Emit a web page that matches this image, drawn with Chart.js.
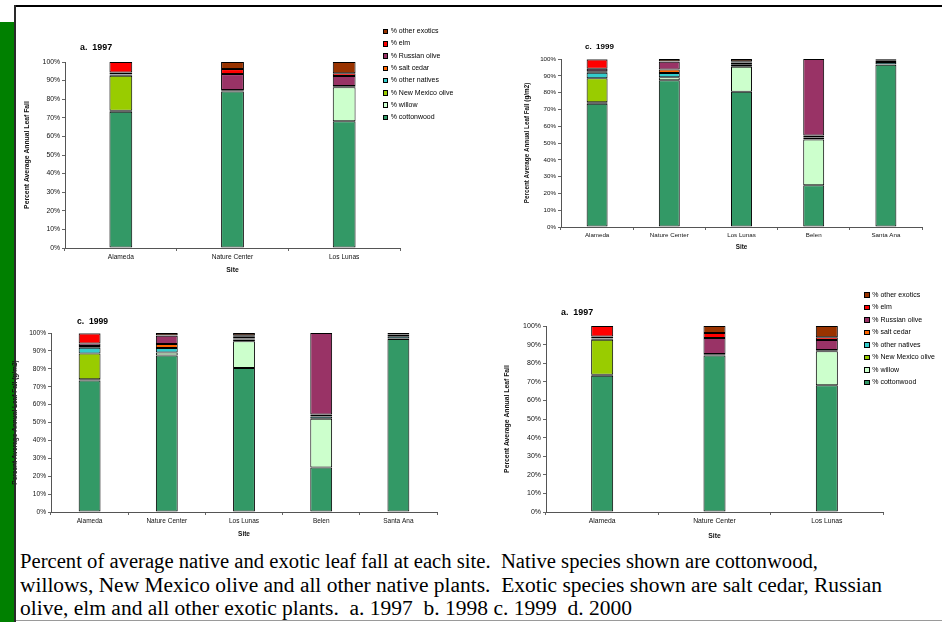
<!DOCTYPE html>
<html>
<head>
<meta charset="utf-8">
<script src="https://cdn.jsdelivr.net/npm/chart.js@4.4.0/dist/chart.umd.min.js"></script>
<style>
  html, body { margin: 0; padding: 0; background: #fff; }
  body { width: 942px; height: 622px; position: relative; overflow: hidden;
         font-family: "Liberation Sans", Arial, sans-serif; }
  .sidebar { position: absolute; left: 0; top: 22px; width: 14px; height: 600px; background: #008000; }
  .frame-top { position: absolute; left: 14px; top: 5px; width: 928px; height: 2px; background: #000; }
  .frame-left { position: absolute; left: 14px; top: 5px; width: 2px; height: 617px; background: #2a2a2a; z-index: 5; }
  .frame-bottom { position: absolute; left: 14px; top: 620px; width: 928px; height: 1px; background: #9a9a9a; }
  canvas { position: absolute; }
  .ttl { position: absolute; font-weight: bold; white-space: pre; line-height: 10px; color: #000; }
  .legend { position: absolute; font-size: 7px; color: #000; }
  .legend div { position: relative; white-space: nowrap; }
  .legend i { position: absolute; left: 0; width: 3.5px; height: 3.5px; border: 0.8px solid #000; }
  .caption { position: absolute; left: 20px; font-family: "Liberation Serif", "Times New Roman", serif;
             font-size: 20px; line-height: 22px; white-space: pre; color: #000; transform-origin: 0 0; }
</style>
</head>
<body>
<div class="sidebar"></div>
<div class="frame-top"></div>
<div class="frame-left"></div>
<div class="frame-bottom"></div>

<canvas id="chartA97"></canvas>
<canvas id="chartC99"></canvas>
<canvas id="chartC99b"></canvas>
<canvas id="chartA97b"></canvas>

<div class="ttl" style="left:80px;top:42px;font-size:8.9px">a.  1997</div>
<div class="ttl" style="left:585px;top:42px;font-size:8px">c.  1999</div>
<div class="ttl" style="left:77px;top:316px;font-size:8.6px">c.  1999</div>
<div class="ttl" style="left:561px;top:307px;font-size:8.9px">a.  1997</div>

<div class="legend" id="legendTop"></div>
<div class="legend" id="legendBottom"></div>

<div class="caption" id="cap1" data-w="798" style="top:550px">Percent of average native and exotic leaf fall at each site.  Native species shown are cottonwood,</div>
<div class="caption" id="cap2" data-w="862" style="top:574px">willows, New Mexico olive and all other native plants.  Exotic species shown are salt cedar, Russian</div>
<div class="caption" id="cap3" data-w="612" style="top:597px">olive, elm and all other exotic plants.  a. 1997  b. 1998 c. 1999  d. 2000</div>

<script>
// Species, stacked from the bottom of each bar upward
const seriesNames = ['% cottonwood', '% willow', '% New Mexico olive', '% other natives',
                     '% salt cedar', '% Russian olive', '% elm', '% other exotics'];
const seriesColors = ['#339966', '#CCFFCC', '#99CC00', '#33CCCC',
                      '#FF6600', '#993366', '#FF0000', '#993300'];

// 1997 sites and species shares (% of annual leaf fall)
const sites97 = ['Alameda', 'Nature Center', 'Los Lunas'];
const cottonwood97    = [73.2, 84.2, 68.2];
const willow97        = [0.6, 0.4, 18.2];
const nmOlive97       = [18.8, 0, 0];
const otherNatives97  = [0.5, 0.3, 0.5];
const saltCedar97     = [0.3, 0, 0.2];
const russianOlive97  = [1.0, 8.6, 5.4];
const elm97           = [5.6, 2.7, 1.4];
const otherExotics97  = [0, 3.8, 6.1];

// 1999 sites and species shares
const sites99 = ['Alameda', 'Nature Center', 'Los Lunas', 'Belen', 'Santa Ana'];
const cottonwood99    = [73.4, 87.4, 80.5, 24.8, 96.6];
const willow99        = [0.8, 1.7, 14.9, 27.3, 0.3];
const nmOlive99       = [14.3, 0, 0, 0, 0];
const otherNatives99  = [3.3, 2.5, 1.0, 1.2, 1.3];
const saltCedar99     = [0.9, 2.2, 0.5, 1.2, 1.0];
const russianOlive99  = [1.5, 4.6, 1.0, 45.5, 0.3];
const elm99           = [5.5, 0.3, 0.8, 0, 0];
const otherExotics99  = [0.3, 1.3, 1.3, 0, 0.5];

// Percentage axis ticks
const percentTicks = [0, 10, 20, 30, 40, 50, 60, 70, 80, 90, 100];

const values97 = [cottonwood97, willow97, nmOlive97, otherNatives97,
                  saltCedar97, russianOlive97, elm97, otherExotics97];
const values99 = [cottonwood99, willow99, nmOlive99, otherNatives99,
                  saltCedar99, russianOlive99, elm99, otherExotics99];

const FONT = '"Liberation Sans", Arial, sans-serif';

// box: where the canvas sits on the page; area: the plot rectangle on the page
function buildChart(id, box, area, cfg) {
  const canvas = document.getElementById(id);
  canvas.width = box.w;
  canvas.height = box.h;
  canvas.style.left = box.x + 'px';
  canvas.style.top = box.y + 'px';

  const yAxisWidth = area.l - box.x;
  const xAxisHeight = box.y + box.h - area.b;
  const titleLH = cfg.titleSize * 1.2;

  new Chart(canvas, {
    type: 'bar',
    data: {
      labels: cfg.sites,
      datasets: seriesNames.map((name, i) => ({
        label: name,
        data: cfg.values[i],
        backgroundColor: seriesColors[i],
        borderColor: '#000',
        borderWidth: 1,
        borderSkipped: false,
        barPercentage: cfg.barPct,
        categoryPercentage: 1
      }))
    },
    options: {
      responsive: false,
      animation: false,
      devicePixelRatio: 1,
      layout: { padding: { left: 0, top: area.t - box.y, right: box.x + box.w - area.r, bottom: 0 } },
      plugins: { legend: { display: false }, tooltip: { enabled: false }, title: { display: false } },
      scales: {
        x: {
          stacked: true,
          grid: { display: true, drawOnChartArea: false, tickLength: 3, color: '#666', offset: true },
          border: { color: '#555', width: 1 },
          ticks: { font: { family: FONT, size: cfg.catSize }, color: '#111', padding: 2,
                   maxRotation: 0, autoSkip: false },
          title: { display: true, text: 'Site', color: '#111',
                   font: { family: FONT, size: cfg.titleSize, weight: 'bold' },
                   padding: { top: 0, bottom: box.y + box.h - cfg.siteY - titleLH / 2 } },
          afterFit: s => { s.height = xAxisHeight; }
        },
        y: {
          stacked: true,
          min: 0,
          max: 100,
          afterBuildTicks: s => { s.ticks = percentTicks.map(v => ({ value: v })); },
          ticks: { font: { family: FONT, size: cfg.tickSize }, color: '#111', padding: 2,
                   callback: v => v + '%' },
          grid: { display: true, drawOnChartArea: false, tickLength: 3, color: '#666' },
          border: { color: '#555', width: 1 },
          title: { display: true, text: cfg.yTitle, color: '#111',
                   font: { family: FONT, size: cfg.titleSize, weight: 'bold' },
                   padding: { top: cfg.yTitleX - box.x - titleLH / 2, bottom: 0 } },
          afterFit: s => { s.width = yAxisWidth; }
        }
      }
    }
  });
}

buildChart('chartA97',
  { x: 18, y: 45, w: 386, h: 235 },
  { l: 65, t: 62, r: 400, b: 248 },
  { sites: sites97, values: values97, barPct: 0.204, tickSize: 6.8, catSize: 6.6, titleSize: 6.8,
    yTitle: 'Percent Average Annual Leaf Fall', yTitleX: 27.3, siteY: 270 });

buildChart('chartC99',
  { x: 515, y: 45, w: 411, h: 217 },
  { l: 561, t: 59, r: 922, b: 227 },
  { sites: sites99, values: values99, barPct: 0.29, tickSize: 6.2, catSize: 6.2, titleSize: 6.3,
    yTitle: 'Percent Average Annual Leaf Fall (g/m2)', yTitleX: 527, siteY: 247 });

buildChart('chartC99b',
  { x: 8, y: 320, w: 433, h: 228 },
  { l: 51, t: 333, r: 437, b: 512 },
  { sites: sites99, values: values99, barPct: 0.283, tickSize: 6.6, catSize: 6.5, titleSize: 6.5,
    yTitle: 'Percent Average Annual Leaf Fall (g/m2)', yTitleX: 15.5, siteY: 534 });

buildChart('chartA97b',
  { x: 495, y: 315, w: 392, h: 235 },
  { l: 546, t: 326, r: 883, b: 512 },
  { sites: sites97, values: values97, barPct: 0.196, tickSize: 7, catSize: 6.8, titleSize: 6.8,
    yTitle: 'Percent Average Annual Leaf Fall', yTitleX: 507, siteY: 536 });

// Legends list the species top-down, from the top of the stack
function buildLegend(id, left, firstCenter, step) {
  const el = document.getElementById(id);
  el.style.left = left + 'px';
  el.style.top = (firstCenter - step / 2) + 'px';
  for (let i = seriesNames.length - 1; i >= 0; i--) {
    const row = document.createElement('div');
    row.style.height = step + 'px';
    row.style.lineHeight = step + 'px';
    row.style.paddingLeft = '8px';
    const sw = document.createElement('i');
    sw.style.background = seriesColors[i];
    sw.style.top = (step / 2 - 2.5) + 'px';
    row.appendChild(sw);
    row.appendChild(document.createTextNode(seriesNames[i]));
    el.appendChild(row);
  }
}
buildLegend('legendTop', 382.7, 31.3, 12.29);
buildLegend('legendBottom', 864.3, 295, 12.47);

// Caption set in a narrow serif: each line is stretched to its set width
(function fitCaption() {
  ['cap1', 'cap2', 'cap3'].forEach(id => {
    const el = document.getElementById(id);
    const k = Number(el.dataset.w) / el.getBoundingClientRect().width;
    el.style.transform = 'scaleX(' + k.toFixed(4) + ')';
  });
})();
</script>
</body>
</html>
